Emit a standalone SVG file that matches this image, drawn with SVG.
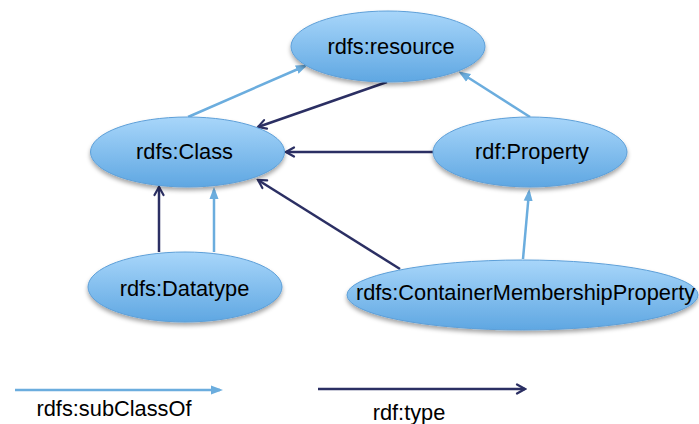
<svg xmlns="http://www.w3.org/2000/svg" width="699" height="424" viewBox="0 0 699 424">
  <defs>
    <linearGradient id="nodeFill" x1="0" y1="0" x2="0" y2="1">
      <stop offset="0" stop-color="#a8d6fa"/>
      <stop offset="1" stop-color="#5fa7e2"/>
    </linearGradient>
    <filter id="shadow" x="-20%" y="-30%" width="140%" height="170%">
      <feDropShadow dx="0" dy="3" stdDeviation="2" flood-color="#000" flood-opacity="0.35"/>
    </filter>
    <!-- filled head for rdfs:subClassOf -->
    <marker id="headSub" markerUnits="userSpaceOnUse" viewBox="0 0 12 10" refX="9" refY="5" markerWidth="12" markerHeight="10" orient="auto">
      <path d="M0,0.5 L12,5 L0,9.5 z" fill="#6badde"/>
    </marker>
    <!-- open head for rdf:type -->
    <marker id="headType" markerUnits="userSpaceOnUse" viewBox="0 0 12 12" refX="10" refY="6" markerWidth="12" markerHeight="12" orient="auto">
      <path d="M2,1.5 L10,6 L2,10.5" fill="none" stroke="#2b2f63" stroke-width="2.2" stroke-linecap="round" stroke-linejoin="miter"/>
    </marker>
  </defs>
  <style>
    .node ellipse { fill: url(#nodeFill); stroke: #5d9fd8; stroke-width: 1; filter: url(#shadow); }
    .node text, .legend text { font-family: "Liberation Sans", Arial, sans-serif; font-size: 21.8px; fill: #000; text-anchor: middle; }
    .sub { stroke: #6badde; stroke-width: 2.5; fill: none; marker-end: url(#headSub); }
    .type { stroke: #2b2f63; stroke-width: 2.5; fill: none; marker-end: url(#headType); }
  </style>

  <rect width="699" height="424" fill="#fff"/>

  <g id="connectors">
    <line class="sub" x1="188" y1="117" x2="305" y2="66"/>
    <line class="type" x1="387" y1="82" x2="258" y2="127"/>
    <line class="type" x1="433" y1="152" x2="286" y2="152"/>
    <line class="sub" x1="530" y1="117" x2="461" y2="73"/>
    <line class="type" x1="159" y1="252" x2="159" y2="187"/>
    <line class="sub" x1="214" y1="252" x2="214" y2="190"/>
    <line class="type" x1="400" y1="269" x2="258" y2="180"/>
    <line class="sub" x1="523" y1="259" x2="529" y2="192"/>
  </g>

  <g id="rdfs-resource" class="node">
    <ellipse cx="388" cy="46.5" rx="97" ry="35.5"/>
    <text x="391" y="53.5">rdfs:resource</text>
  </g>
  <g id="rdfs-Class" class="node">
    <ellipse cx="187.5" cy="152" rx="97" ry="35"/>
    <text x="184.5" y="158.5">rdfs:Class</text>
  </g>
  <g id="rdf-Property" class="node">
    <ellipse cx="530" cy="152" rx="97" ry="35"/>
    <text x="532" y="158.5">rdf:Property</text>
  </g>
  <g id="rdfs-Datatype" class="node">
    <ellipse cx="185" cy="287" rx="97" ry="35"/>
    <text x="184.5" y="296">rdfs:Datatype</text>
  </g>
  <g id="rdfs-ContainerMembershipProperty" class="node">
    <ellipse cx="522.5" cy="295" rx="175.5" ry="35"/>
    <text x="525.5" y="300">rdfs:ContainerMembershipProperty</text>
  </g>

  <g id="legend" class="legend">
    <line class="sub" x1="15" y1="390" x2="220" y2="390"/>
    <text x="114" y="416">rdfs:subClassOf</text>
    <line class="type" x1="318" y1="389" x2="525" y2="389"/>
    <text x="409" y="420">rdf:type</text>
  </g>
</svg>
